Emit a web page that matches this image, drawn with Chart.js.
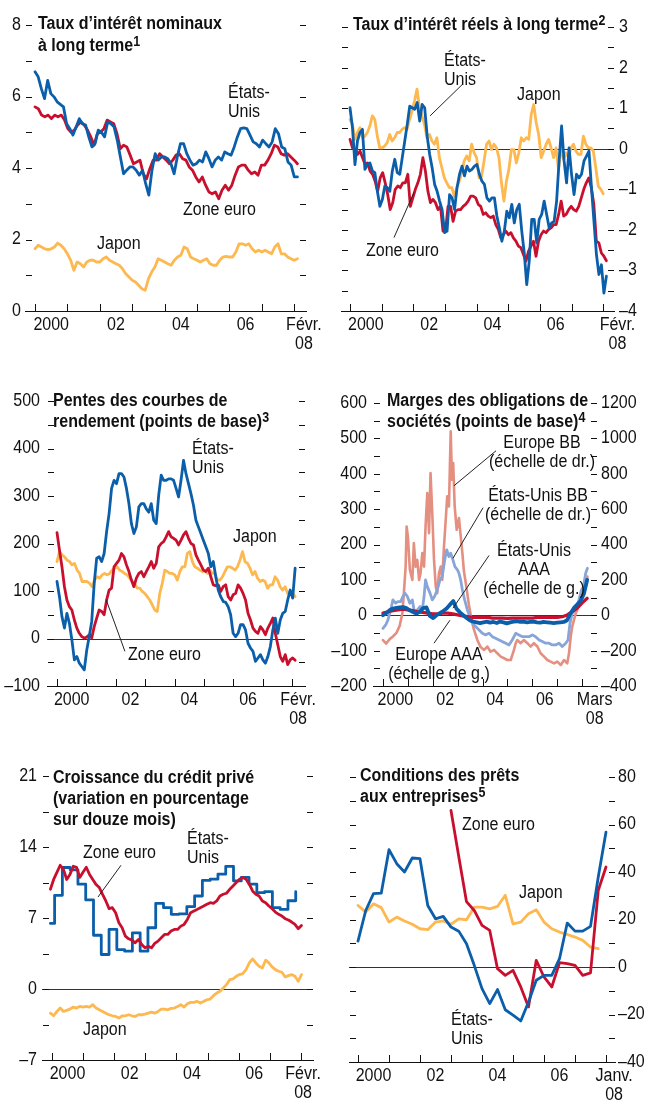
<!DOCTYPE html>
<html lang="fr">
<head>
<meta charset="utf-8">
<script src="https://cdn.jsdelivr.net/npm/chart.js@4.4.1/dist/chart.umd.min.js"></script>
<style>
  html, body { margin: 0; padding: 0; background: #fff; }
  body { width: 648px; height: 1101px; position: relative; overflow: hidden;
         font-family: 'Liberation Sans', Arial, sans-serif; color: #111; }
  .panel { position: absolute; }
  .panel canvas { position: absolute; left: 0; top: 0; }
  .title { position: absolute; font-weight: bold; font-size: 18px; line-height: 21px; white-space: nowrap;
           transform: scaleX(0.89); transform-origin: 0 0; }
  .title sup { font-size: 14px; line-height: 0; vertical-align: 5px; }
  .lbl { position: absolute; font-size: 18px; line-height: 19px; white-space: nowrap;
         transform: scaleX(0.89); transform-origin: 0 0; }
  .lbl.ctr { transform: translateX(-50%) scaleX(0.89); transform-origin: 50% 0; text-align: center; }
</style>
</head>
<body>
<div class="title" style="left:38px;top:12px;line-height:22px">Taux d’intérêt nominaux<br>à long terme<sup>1</sup></div>
<div class="title" style="left:353px;top:14px">Taux d’intérêt réels à long terme<sup>2</sup></div>
<div class="title" style="left:53px;top:390px">Pentes des courbes de<br>rendement (points de base)<sup>3</sup></div>
<div class="title" style="left:387px;top:390px">Marges des obligations de<br>sociétés (points de base)<sup>4</sup></div>
<div class="title" style="left:53px;top:767px">Croissance du crédit privé<br>(variation en pourcentage<br>sur douze mois)</div>
<div class="title" style="left:360px;top:765px">Conditions des prêts<br>aux entreprises<sup>5</sup></div>
<script>
// ---------- 1. taux nominaux (%), jan. 2000 - févr. 2008 ----------
const nomStart = 2000.0, nomEnd = 2008.1;
const nomUS = [6.69, 6.55, 6.22, 5.94, 6.45, 6.08, 5.99, 5.85, 5.78, 5.71,
  5.24, 5.1, 4.92, 5.15, 5.38, 5.24, 5.2, 4.87, 4.59, 4.68,
  5.06, 5.0, 4.87, 5.29, 5.24, 5.15, 4.78, 4.31, 3.84, 3.94,
  4.03, 4.03, 3.94, 3.8, 3.94, 3.56, 3.24, 3.94, 4.4, 4.22,
  4.31, 4.31, 4.26, 4.12, 3.84, 4.31, 4.68, 4.68, 4.4, 4.22,
  4.08, 4.12, 4.22, 4.17, 4.45, 4.26, 4.03, 4.22, 4.31, 4.22,
  4.45, 4.4, 4.36, 4.59, 4.87, 5.1, 5.12, 5.1, 4.92, 4.73,
  4.68, 4.59, 4.78, 4.68, 4.59, 4.73, 5.1, 4.96, 4.59, 4.54,
  4.17, 4.08, 3.75, 3.75];
const nomEuro = [5.71, 5.66, 5.48, 5.43, 5.48, 5.38, 5.48, 5.43, 5.48, 5.34,
  5.1, 5.0, 5.06, 5.2, 5.29, 5.2, 5.06, 4.87, 4.64, 4.96,
  5.0, 5.1, 5.34, 5.29, 5.24, 4.96, 4.54, 4.64, 4.59, 4.36,
  4.12, 4.17, 4.22, 3.84, 3.7, 3.98, 4.22, 4.22, 4.4, 4.31,
  4.22, 4.12, 4.22, 4.36, 4.4, 4.26, 4.22, 4.03, 3.94, 3.75,
  3.61, 3.75, 3.52, 3.33, 3.28, 3.33, 3.14, 3.38, 3.52, 3.38,
  3.52, 3.8, 4.03, 4.08, 4.08, 3.94, 3.84, 3.89, 3.8, 4.08,
  4.08, 4.22, 4.4, 4.64, 4.59, 4.4, 4.36, 4.4, 4.31, 4.22, 4.12];
const nomJapan = [1.74, 1.84, 1.79, 1.74, 1.72, 1.74, 1.79, 1.9, 1.84, 1.74,
  1.6, 1.42, 1.14, 1.37, 1.32, 1.23, 1.37, 1.42, 1.42, 1.37,
  1.37, 1.46, 1.51, 1.42, 1.37, 1.32, 1.28, 1.18, 1.04, 0.95,
  0.86, 0.81, 0.72, 0.62, 0.58, 0.9, 1.09, 1.23, 1.46, 1.42,
  1.37, 1.32, 1.28, 1.42, 1.51, 1.56, 1.79, 1.74, 1.51, 1.46,
  1.42, 1.37, 1.42, 1.46, 1.32, 1.28, 1.28, 1.42, 1.51, 1.53,
  1.51, 1.51, 1.65, 1.88, 1.88, 1.84, 1.88, 1.74, 1.65, 1.7,
  1.65, 1.7, 1.65, 1.6, 1.79, 1.88, 1.6, 1.6, 1.51, 1.46, 1.42, 1.46];

// ---------- 2. taux réels (%) ----------
const realStart = 2000.0, realEnd = 2008.1, realJapanEnd = 2008.0;
const realUS = [1.01, 0.52, -0.39, 0.19, 0.4, 0.48, -0.51, -0.39, -0.35, -0.55,
  -0.59, -1.05, -1.42, -1.25, -0.92, -0.96, -1.05, -0.55, -0.26, -0.59,
  -0.63, -0.22, 0.19, 0.6, 1.05, 1.01, 0.97, 1.14, 0.68, 1.09,
  1.01, 0.31, -0.14, -0.47, -0.88, -1.05, -1.29, -1.5, -2.07, -2.03,
  -1.13, -1.21, -1.5, -0.96, -0.63, -0.43, -0.67, -0.43, -0.55, -0.51,
  -0.43, -0.39, -0.63, -0.8, -0.88, -1.21, -1.29, -1.21, -1.21, -1.66,
  -1.95, -2.28, -2.03, -1.54, -1.7, -1.37, -1.83, -1.5, -1.37, -2.03,
  -2.57, -3.35, -2.77, -1.74, -1.74, -2.32, -1.74, -1.62, -1.29, -1.62,
  -1.95, -1.83, -1.79, -1.29, -0.3, 0.56, -0.3, -0.84, 0.02, -0.63,
  -1.13, -0.63, -0.72, -0.63, -0.3, -0.18, -0.06, -0.96, -1.79, -2.61,
  -3.1, -2.86, -3.56, -3.14];
const realEuro = [0.23, 0.02, -0.02, -0.14, -0.06, -0.22, -0.39, -0.35, -0.55, -0.63,
  -0.8, -1.05, -0.72, -0.59, -0.84, -1.13, -1.5, -1.33, -1.0, -0.92,
  -0.96, -0.84, -0.84, -0.63, -1.42, -1.21, -1.0, -0.84, -0.63, -0.22,
  -0.55, -1.05, -1.33, -1.25, -1.33, -1.5, -1.42, -2.03, -2.03, -1.42,
  -1.42, -1.79, -1.54, -1.5, -1.5, -1.42, -1.37, -1.29, -1.17, -1.17,
  -1.21, -1.37, -1.42, -1.62, -1.58, -1.66, -1.7, -1.66, -1.87, -1.99,
  -2.2, -2.12, -2.03, -2.12, -2.07, -2.2, -2.28, -2.4, -2.44, -2.61,
  -2.77, -2.53, -2.4, -2.28, -2.65, -2.28, -2.12, -2.03, -2.07, -1.99,
  -1.95, -1.87, -1.87, -1.62, -1.29, -1.66, -1.62, -1.5, -1.42, -1.5,
  -1.54, -1.42, -1.21, -1.0, -0.84, -0.72, -0.96, -1.37, -2.28, -2.32,
  -2.57, -2.65, -2.76];
const realJapan = [0.72, 0.6, 0.23, 0.4, 0.52, 0.27, 0.31, 0.4, 0.56, 0.81,
  0.72, 0.31, 0.02, 0.02, 0.07, 0.15, 0.35, 0.19, 0.27, 0.4,
  0.4, 0.48, 0.52, 0.48, 0.72, 0.93, 1.18, 1.47, 1.01, 0.81,
  0.6, 0.27, 0.35, 0.19, 0.11, 0.27, -0.22, -0.47, -0.72, -0.84,
  -0.96, -0.96, -1.17, -0.96, -0.8, -0.59, -0.3, -0.18, -0.3, 0.11,
  -0.1, -0.22, -0.72, -0.68, -0.3, 0.11, 0.19, -0.02, 0.11, 0.02,
  -0.22, -0.84, -1.29, -0.8, -0.51, -0.02, -0.02, -0.35, -0.1, 0.27,
  0.19, 0.27, 0.23, 0.85, 1.09, 0.64, 0.35, -0.22, -0.06, 0.11,
  0.23, 0.02, -0.22, 0.02, -0.51, 0.02, -0.26, -0.1, -0.22, 0.02,
  0.11, -0.06, -0.14, -0.14, 0.31, 0.11, 0.02, 0.02, -0.06, -0.47,
  -0.92, -1.0, -1.11];

// ---------- 3. pentes des courbes (points de base) ----------
const slopeStart = 2000.0, slopeEnd = 2008.1;
const slopeUS = [120, 88, 46, 22, 53, 32, -3, -45, -38, -52,
  -59, -66, -24, 4, 36, 116, 169, 172, 162, 179,
  225, 263, 316, 333, 326, 347, 347, 340, 316, 284,
  242, 221, 235, 277, 284, 284, 273, 266, 284, 249,
  242, 302, 344, 333, 333, 336, 336, 333, 316, 298,
  333, 375, 347, 326, 305, 281, 249, 235, 221, 207,
  193, 179, 151, 162, 130, 102, 88, 78, 76, 67,
  50, 11, 4, 11, 29, 29, 18, -10, -20, -27,
  -48, -41, -34, -45, -52, -38, -17, 18, 43, 11,
  39, 53, 57, 81, 102, 85, 148];
const slopeEuro = [223, 186, 151, 109, 81, 67, 60, 39, 22, 11,
  4, 1, 3, 8, 1, 25, 43, 60, 57, 50,
  81, 102, 106, 151, 158, 165, 179, 172, 155, 141,
  123, 109, 127, 137, 141, 130, 141, 151, 162, 148,
  158, 193, 200, 204, 214, 225, 214, 211, 207, 197,
  207, 218, 225, 211, 200, 197, 176, 165, 155, 144,
  141, 148, 130, 113, 111, 113, 99, 109, 113, 88,
  81, 92, 95, 113, 106, 95, 81, 53, 39, 22,
  15, 11, 25, 18, 8, 22, 32, 43, 11, -13,
  -38, -48, -34, -55, -45, -41, -46];
const slopeJapan = [162, 183, 176, 172, 165, 162, 155, 158, 144, 137,
  120, 120, 120, 116, 109, 123, 130, 127, 134, 137,
  134, 137, 144, 148, 151, 144, 141, 137, 134, 127,
  120, 116, 106, 106, 99, 95, 88, 81, 71, 60,
  57, 95, 116, 144, 141, 137, 137, 134, 123, 141,
  151, 151, 179, 183, 162, 151, 148, 144, 141, 144,
  137, 144, 137, 137, 123, 123, 130, 141, 151, 151,
  148, 144, 151, 165, 183, 162, 158, 148, 134, 141,
  127, 120, 123, 120, 106, 113, 113, 130, 123, 109,
  102, 109, 95, 99, 95, 88];

// ---------- 4. marges des obligations de sociétés (points de base) ----------
const euBBDates = [2000.00, 2000.13, 2000.27, 2000.40, 2000.54, 2000.67, 2000.78, 2000.84, 2000.91, 2000.95,
  2001.00, 2001.08, 2001.18, 2001.24, 2001.31, 2001.38, 2001.45, 2001.51, 2001.58, 2001.65,
  2001.71, 2001.78, 2001.85, 2001.91, 2001.98, 2002.05, 2002.12, 2002.18, 2002.25, 2002.32,
  2002.38, 2002.45, 2002.52, 2002.58, 2002.65, 2002.72, 2002.77, 2002.82, 2002.88, 2002.96,
  2003.05, 2003.12, 2003.19, 2003.25, 2003.36, 2003.45, 2003.55, 2003.65, 2003.79, 2003.92,
  2004.06, 2004.19, 2004.32, 2004.46, 2004.59, 2004.73, 2004.86, 2004.99, 2005.13, 2005.26,
  2005.33, 2005.39, 2005.53, 2005.66, 2005.80, 2005.93, 2006.06, 2006.20, 2006.33, 2006.47,
  2006.60, 2006.73, 2006.87, 2007.00, 2007.14, 2007.27, 2007.40, 2007.47, 2007.54, 2007.60,
  2007.67, 2007.74, 2007.80, 2007.87, 2007.94, 2008.01, 2008.07, 2008.14, 2008.21];
const euBB = [-140, -160, -135, -120, -100, -60, 11, 125, 275, 502,
  445, 257, 200, 408, 275, 313, 200, 238, 351, 275,
  502, 691, 464, 804, 577, 313, 162, 125, 238, 275,
  200, 389, 540, 672, 615, 1040, 766, 860, 615, 483,
  550, 450, 350, 250, 150, 60, -20, -80, -140, -180,
  -196, -177, -206, -196, -215, -234, -243, -253, -253, -196,
  -158, -140, -158, -140, -158, -177, -158, -177, -215, -234,
  -253, -262, -272, -262, -281, -253, -272, -215, -121, -64,
  -26, 11, 30, 68, 106, 125, 143, 162, 219];
const usBBDates = [2000.00, 2000.11, 2000.20, 2000.31, 2000.40, 2000.51, 2000.60, 2000.71, 2000.80, 2000.88,
  2000.98, 2001.08, 2001.18, 2001.27, 2001.38, 2001.49, 2001.58, 2001.65, 2001.71, 2001.78,
  2001.89, 2001.98, 2002.07, 2002.18, 2002.29, 2002.38, 2002.48, 2002.56, 2002.65, 2002.72,
  2002.81, 2002.89, 2002.99, 2003.05, 2003.12, 2003.19, 2003.28, 2003.39, 2003.49, 2003.59,
  2003.72, 2003.86, 2003.99, 2004.12, 2004.26, 2004.39, 2004.52, 2004.66, 2004.79, 2004.93,
  2005.06, 2005.19, 2005.33, 2005.46, 2005.60, 2005.73, 2005.86, 2006.00, 2006.13, 2006.27,
  2006.40, 2006.53, 2006.67, 2006.80, 2006.93, 2007.07, 2007.20, 2007.34,
  2007.43, 2007.51, 2007.60, 2007.70, 2007.78, 2007.87, 2007.97, 2008.05, 2008.14, 2008.21];
const usBB = [-74, -55, -26, 30, 87, 68, 77, 77, 106, 125,
  106, 68, 87, 11, 30, 49, 30, 106, 200, 162,
  125, 87, 106, 143, 200, 219, 313, 370, 332, 351,
  313, 275, 257, 238, 200, 143, 87, 30, -8, -45,
  -64, -83, -102, -111, -102, -121, -130, -140, -149, -158,
  -168, -140, -102, -111, -121, -121, -121, -111, -121, -140,
  -149, -158, -158, -168, -168, -158, -177, -158,
  -140, -45, 11, 30, 49, 87, 143, 162, 238, 266];
const spreadStart = 2000.0, spreadEnd = 2008.2;
const usAAA = [0, 6, 14, 19, 21, 22, 23, 20, 14, 9,
  5, 10, 20, 22, -2, -8, 0, 6, 12, 19,
  30, 40, 18, 8, 0, -8, -15, -18, -20, -22,
  -20, -18, -21, -19, -22, -18, -20, -23, -20, -18,
  -17, -19, -18, -20, -19, -18, -20, -21, -19, -20,
  -21, -22, -21, -20, -19, -14, 5, 20, 30, 40,
  60, 100];
const euAAA = [6, 10, 13, 15, 17, 15, 13, 10, 8, 6,
  4, 4, 6, 6, 4, 1, -2, -4, -6, -6,
  -6, -6, -8, -8, -8, -9, -8, -8, -8, -8,
  -8, -6, -6, -6, -6, -6, -4, 1, 10, 20,
  35, 48];

// ---------- 5. crédit privé (variation sur douze mois, %) ----------
const creditStart = 1999.95, creditEnd = 2008.02;
const creditEuro = [9.83, 10.8, 11.5, 12.2, 11.8, 10.8, 11.3, 12.1, 12.0, 11.0,
  11.5, 12.0, 11.3, 10.8, 10.3, 10.0, 9.34, 8.68, 7.92, 8.02,
  7.52, 6.53, 6.04, 5.21, 4.95, 4.82, 4.55, 4.88, 4.39, 4.06,
  4.22, 4.06, 4.49, 4.72, 5.05, 5.38, 5.38, 5.71, 5.87, 5.87,
  6.2, 6.37, 6.86, 7.52, 7.69, 7.85, 8.02, 8.18, 8.35, 8.51,
  8.45, 8.68, 9.17, 9.34, 9.44, 9.83, 10.16, 10.5, 10.83, 10.99,
  10.83, 10.33, 9.67, 9.34, 9.17, 8.68, 8.51, 8.18, 7.92, 7.59,
  7.36, 7.19, 6.93, 6.8, 6.6, 6.37, 5.94, 6.27];
const creditJapan = [-2.38, -2.64, -2.21, -1.88, -2.21, -2.11, -1.98, -1.78, -1.88, -1.72,
  -1.78, -1.72, -1.78, -1.55, -1.88, -2.05, -2.21, -2.38, -2.54, -2.64,
  -2.71, -2.87, -2.64, -2.64, -2.54, -2.64, -2.71, -2.54, -2.54, -2.48,
  -2.38, -2.28, -2.38, -2.21, -1.98, -1.98, -2.05, -1.91, -1.88, -1.72,
  -1.55, -1.78, -1.45, -1.32, -1.32, -1.22, -1.39, -1.22, -1.06, -0.99,
  -0.66, -0.4, -0.23, 0.1, 0.43, 0.92, 0.99, 1.25, 1.42, 1.52,
  1.91, 2.57, 2.97, 2.57, 2.24, 2.08, 2.84, 2.57, 2.18, 1.91,
  1.75, 1.65, 1.19, 1.32, 1.42, 1.25, 0.76, 1.42];
// données trimestrielles (paliers)
const creditUSFirst = 1999.95, creditUSQuarter1 = 2000.085;
const creditUS = [6.47, 9.24, 11.98, 11.75, 10.33, 8.78, 5.3, 3.4, 5.87, 3.89,
  3.73, 5.54, 3.73, 6.04, 8.45, 8.02, 7.36, 7.4, 8.12, 9.17,
  10.7, 10.83, 11.32, 12.08, 10.66, 11.0, 10.33, 9.5, 9.6, 8.02,
  7.85, 8.7, 9.6];

// ---------- 6. conditions des prêts (trimestriel) ----------
const lendUSStart = 2000.0, lendEuroStart = 2003.0, lendJapanStart = 2000.0;
const lendUS = [10.9, 23.8, 30.9, 31.1, 49.4, 43.5, 40.0, 45.9, 45.6, 25.9,
  20.3, 21.3, 16.8, 15.1, 9.8, 0.7, -9.1, -15.4, -9.5, -18.0,
  -20.3, -22.7, -14.7, -5.6, -3.5, -3.5, 3.5, 18.5, 15.1, 15.1,
  17.1, 37.9, 56.8];
const lendEuro = [65.9, 46.5, 27.5, 23.8, 17.5, 15.4, -0.7, -3.5, -1.4, -8.4,
  -16.8, 2.8, -4.2, -8.4, 1.8, 1.4, 0.7, -3.5, -2.5, 32.3, 42.1];
const lendJapan = [25.9, 23.1, 26.6, 25.0, 18.9, 21.0, 19.4, 18.0, 16.1, 15.7,
  18.9, 19.4, 18.0, 20.3, 19.9, 25.2, 25.2, 24.5, 25.5, 30.2,
  18.2, 18.9, 22.4, 24.1, 18.9, 16.1, 14.7, 13.7, 12.6, 11.2,
  8.4, 7.7];

// ---------- chart helpers ----------
const TEXT_FONT = "18px 'Liberation Sans', Arial, sans-serif";
const SQUEEZE = 0.89; // police étroite simulée
Chart.defaults.font.family = "'Liberation Sans', Arial, sans-serif";
Chart.defaults.font.size = 18;
Chart.defaults.color = '#111';

const BLUE = '#0b5faa', RED = '#c8102e', GOLD = '#fdb850', SALMON = '#e48f80', SKY = '#88a5d9';

function fmt(v) { return v < 0 ? '–' + Math.abs(v) : String(v); }
function spread(values, start, end) {
  const step = (end - start) / (values.length - 1);
  return values.map((v, i) => ({ x: start + i * step, y: v }));
}
function quarterly(values, start) {
  return values.map((v, i) => ({ x: start + i * 0.25, y: v }));
}
function paired(dates, values) { return values.map((v, i) => ({ x: dates[i], y: v })); }
function line(label, data, color, width, extra) {
  return Object.assign({ label, data, borderColor: color, borderWidth: width || 2.8, fill: false }, extra || {});
}
function narrowText(ctx, text, x, y, align) {
  ctx.save();
  ctx.translate(x, y);
  ctx.scale(SQUEEZE, 1);
  ctx.textAlign = align;
  ctx.fillText(text, 0, 0);
  ctx.restore();
}

// pointillés des axes, graduations, libellés, ligne zéro, traits de rappel
function makeDecor(p) {
  return {
    id: 'decor',
    beforeDatasetsDraw(chart) {
      if (!p.zero) return;
      const { ctx, chartArea: a } = chart;
      const y = Math.round(chart.scales.y.getPixelForValue(0)) + 0.5;
      ctx.save();
      ctx.strokeStyle = '#333'; ctx.lineWidth = 1;
      ctx.beginPath(); ctx.moveTo(a.left, y); ctx.lineTo(a.right, y); ctx.stroke();
      ctx.restore();
    },
    afterDraw(chart) {
      const { ctx, chartArea: a, scales } = chart;
      const ys = scales.y;
      ctx.save();
      ctx.strokeStyle = '#111'; ctx.lineWidth = 1;
      ctx.beginPath();
      const n = Math.round((ys.max - ys.min) / p.y.minor);
      for (let k = 0; k <= n; k++) {
        const v = ys.min + k * p.y.minor;
        const py = Math.round(ys.getPixelForValue(v)) + 0.5;
        if (Math.abs(py - a.bottom) < 2) continue;
        ctx.moveTo(a.left + 1, py); ctx.lineTo(a.left + 7, py);
        ctx.moveTo(a.right - 6, py); ctx.lineTo(a.right, py);
      }
      for (let yr = 2000; yr <= 2008; yr++) {
        const px = Math.round(scales.x.getPixelForValue(yr)) + 0.5;
        ctx.moveTo(px, a.bottom); ctx.lineTo(px, a.bottom - 7);
      }
      ctx.stroke();

      ctx.strokeStyle = '#222';
      ctx.beginPath();
      (p.leaders || []).forEach(l => {
        ctx.moveTo(scales.x.getPixelForValue(l[0]), ys.getPixelForValue(l[1]));
        ctx.lineTo(scales.x.getPixelForValue(l[2]), ys.getPixelForValue(l[3]));
      });
      ctx.stroke();

      // libellés des axes
      ctx.fillStyle = '#111';
      ctx.font = TEXT_FONT;
      ctx.textBaseline = 'middle';
      [['y', p.y], ['y2', p.y2]].forEach(([id, c]) => {
        const s = scales[id];
        if (!s || !c) return;
        s.ticks.forEach(t => {
          const py = s.getPixelForValue(t.value);
          if (c.side === 'left') narrowText(ctx, fmt(t.value), a.left - c.pad, py, 'right');
          else narrowText(ctx, fmt(t.value), a.right + c.pad, py, 'left');
        });
      });
      ctx.textBaseline = 'alphabetic';
      scales.x.ticks.forEach((t, i) => {
        const px = scales.x.getPixelForValue(t.value);
        [].concat(p.xLabels[i][1]).forEach((s, k) => narrowText(ctx, s, px, a.bottom + 19 + k * 19, 'center'));
      });
      ctx.restore();
    }
  };
}

function yScale(c, width) {
  return {
    type: 'linear', position: c.side, min: c.min, max: c.max,
    afterFit: s => { s.width = width; },
    afterBuildTicks: s => { s.ticks = c.labels.map(v => ({ value: v })); },
    ticks: { display: false },
    grid: { display: false, drawTicks: false }, border: { display: false }
  };
}

function buildPanel(p) {
  const [bx, by, W, H] = p.box;
  const wrap = document.createElement('div');
  wrap.className = 'panel';
  wrap.style.cssText = `left:${bx}px;top:${by}px;width:${W}px;height:${H}px`;
  const canvas = document.createElement('canvas');
  canvas.width = W; canvas.height = H;
  wrap.appendChild(canvas);
  document.body.insertBefore(wrap, document.body.firstChild);

  const L = p.area[0] - bx, R = p.area[1] - bx, T = p.area[2] - by, B = p.area[3] - by;
  const XH = 40;
  const hasLeft = p.y.side === 'left';
  const hasRight = p.y.side === 'right' || !!p.y2;
  const scales = {
    x: {
      type: 'linear', min: p.xMin, max: p.xMax,
      afterFit: s => { s.height = XH; },
      afterBuildTicks: s => { s.ticks = p.xLabels.map(t => ({ value: t[0] })); },
      ticks: { display: false },
      grid: { display: false, drawTicks: false },
      border: { display: true, color: '#111', width: 1 }
    },
    y: yScale(p.y, hasLeft ? L : W - R)
  };
  if (p.y2) scales.y2 = yScale(p.y2, W - R);

  const chart = new Chart(canvas, {
    type: 'line',
    data: { datasets: p.datasets },
    options: {
      responsive: false, animation: false, events: [],
      layout: { padding: { left: hasLeft ? 0 : L, right: hasRight ? 0 : W - R, top: T, bottom: H - B - XH } },
      scales,
      elements: { point: { radius: 0 }, line: { tension: 0, borderJoinStyle: 'round', borderCapStyle: 'round' } },
      plugins: { legend: { display: false }, tooltip: { enabled: false } }
    },
    plugins: [makeDecor(p)]
  });

  (p.labels || []).forEach(l => {
    const d = document.createElement('div');
    d.className = 'lbl' + (l.c ? ' ctr' : '');
    d.innerHTML = l.t;
    d.style.left = chart.scales.x.getPixelForValue(l.x) + 'px';
    d.style.top = chart.scales.y.getPixelForValue(l.y) + 'px';
    wrap.appendChild(d);
  });
  return chart;
}

const yearLabels = [[2000.5, '2000'], [2002.5, '02'], [2004.5, '04'], [2006.5, '06']];

// 1
buildPanel({
  box: [0, 0, 324, 370], area: [25, 306, 25, 311],
  xMin: 1999.691, xMax: 2008.364,
  xLabels: yearLabels.concat([[2008.3, ['Févr.', '08']]]),
  y: { side: 'left', min: 0, max: 8, labels: [0, 2, 4, 6, 8], minor: 1, pad: 4 },
  datasets: [
    line('États-Unis', spread(nomUS, nomStart, nomEnd), BLUE),
    line('Zone euro', spread(nomEuro, nomStart, nomEnd), RED),
    line('Japon', spread(nomJapan, nomStart, nomEnd), GOLD)
  ],
  labels: [
    { t: 'États-<br>Unis', x: 2005.96, y: 6.38 },
    { t: 'Zone euro', x: 2004.57, y: 3.1 },
    { t: 'Japon', x: 2001.91, y: 2.15 }
  ]
});

// 2
buildPanel({
  box: [324, 0, 324, 370], area: [341, 614, 27, 311],
  xMin: 1999.716, xMax: 2008.34,
  xLabels: yearLabels.concat([[2008.45, ['Févr.', '08']]]),
  y: { side: 'right', min: -4, max: 3, labels: [-4, -3, -2, -1, 0, 1, 2, 3], minor: 0.5, pad: 5 },
  zero: true,
  datasets: [
    line('États-Unis', spread(realUS, realStart, realEnd), BLUE),
    line('Zone euro', spread(realEuro, realStart, realEnd), RED),
    line('Japon', spread(realJapan, realStart, realJapanEnd), GOLD)
  ],
  labels: [
    { t: 'États-<br>Unis', x: 2002.97, y: 2.41 },
    { t: 'Japon', x: 2005.28, y: 1.58 },
    { t: 'Zone euro', x: 2000.51, y: -2.27 }
  ],
  leaders: [[2003.57, 1.6, 2002.53, 0.81], [2001.39, -2.19, 2002.02, -1.08]]
});

// 3
buildPanel({
  box: [0, 370, 324, 370], area: [47, 305, 401, 686],
  xMin: 1999.66, xMax: 2008.435,
  xLabels: yearLabels.concat([[2008.2, ['Févr.', '08']]]),
  y: { side: 'left', min: -100, max: 500, labels: [-100, 0, 100, 200, 300, 400, 500], minor: 50, pad: 7 },
  zero: true,
  datasets: [
    line('États-Unis', spread(slopeUS, slopeStart, slopeEnd), BLUE),
    line('Zone euro', spread(slopeEuro, slopeStart, slopeEnd), RED),
    line('Japon', spread(slopeJapan, slopeStart, slopeEnd), GOLD)
  ],
  labels: [
    { t: 'États-<br>Unis', x: 2004.59, y: 419 },
    { t: 'Japon', x: 2005.99, y: 234 },
    { t: 'Zone euro', x: 2002.41, y: -13 }
  ],
  leaders: [[2002.31, -27, 2001.67, 82]]
});

// 4
buildPanel({
  box: [324, 370, 324, 370], area: [373, 597, 403, 686],
  xMin: 1999.6, xMax: 2008.594,
  xLabels: yearLabels.concat([[2008.5, ['Mars', '08']]]),
  y: { side: 'left', min: -200, max: 600, labels: [-200, -100, 0, 100, 200, 300, 400, 500, 600], minor: 50, pad: 6 },
  y2: { side: 'right', min: -400, max: 1200, labels: [-400, -200, 0, 200, 400, 600, 800, 1000, 1200], minor: 100, pad: 4 },
  zero: true,
  datasets: [
    line('États-Unis AAA', spread(usAAA, spreadStart, spreadEnd), BLUE, 3.8),
    line('Europe AAA', spread(euAAA, spreadStart, spreadEnd), RED, 3.2),
    line('États-Unis BB', paired(usBBDates, usBB), SKY, 2.8, { yAxisID: 'y2' }),
    line('Europe BB', paired(euBBDates, euBB), SALMON, 2.6, { yAxisID: 'y2' })
  ],
  labels: [
    { t: 'Europe BB<br>(échelle de dr.)', x: 2006.39, y: 515, c: true },
    { t: 'États-Unis BB<br>(échelle de dr.)', x: 2006.22, y: 366, c: true },
    { t: 'États-Unis<br>AAA<br>(échelle de g.)', x: 2006.06, y: 211, c: true },
    { t: 'Europe AAA<br>(échelle de g.)', x: 2002.25, y: -85, c: true }
  ],
  leaders: [[2004.54, 465, 2002.85, 366], [2004.02, 304, 2002.81, 161],
            [2004.26, 169, 2002.81, 20], [2002.05, -79, 2002.69, -14]]
});

// 5
buildPanel({
  box: [0, 740, 324, 361], area: [42, 313, 776, 1060],
  xMin: 1999.68, xMax: 2008.39,
  xLabels: yearLabels.concat([[2008.07, ['Févr.', '08']]]),
  y: { side: 'left', min: -7, max: 21, labels: [-7, 0, 7, 14, 21], minor: 3.5, pad: 5 },
  zero: true,
  datasets: [
    line('Zone euro', spread(creditEuro, creditStart, creditEnd), RED),
    line('États-Unis', creditUS.map((v, i) => ({ x: i === 0 ? creditUSFirst : creditUSQuarter1 + (i - 1) * 0.25, y: v })), BLUE, 2.8, { stepped: 'before' }),
    line('Japon', spread(creditJapan, creditStart, creditEnd), GOLD)
  ],
  labels: [
    { t: 'Zone euro', x: 2001.0, y: 14.4 },
    { t: 'États-<br>Unis', x: 2004.34, y: 15.8 },
    { t: 'Japon', x: 2001.0, y: -3.06 }
  ],
  leaders: [[2002.22, 12.2, 2001.48, 9.07]]
});

// 6
buildPanel({
  box: [324, 740, 324, 361], area: [349, 615, 777, 1062],
  xMin: 1999.71, xMax: 2008.29,
  xLabels: yearLabels.concat([[2008.26, ['Janv.', '08']]]),
  y: { side: 'right', min: -40, max: 80, labels: [-40, -20, 0, 20, 40, 60, 80], minor: 10, pad: 3 },
  zero: true,
  datasets: [
    line('États-Unis', quarterly(lendUS, lendUSStart), BLUE),
    line('Zone euro', quarterly(lendEuro, lendEuroStart), RED),
    line('Japon', quarterly(lendJapan, lendJapanStart), GOLD)
  ],
  labels: [
    { t: 'Zone euro', x: 2003.35, y: 64 },
    { t: 'Japon', x: 2005.19, y: 35.4 },
    { t: 'États-<br>Unis', x: 2003.0, y: -18.1 }
  ]
});
</script>
</body>
</html>
